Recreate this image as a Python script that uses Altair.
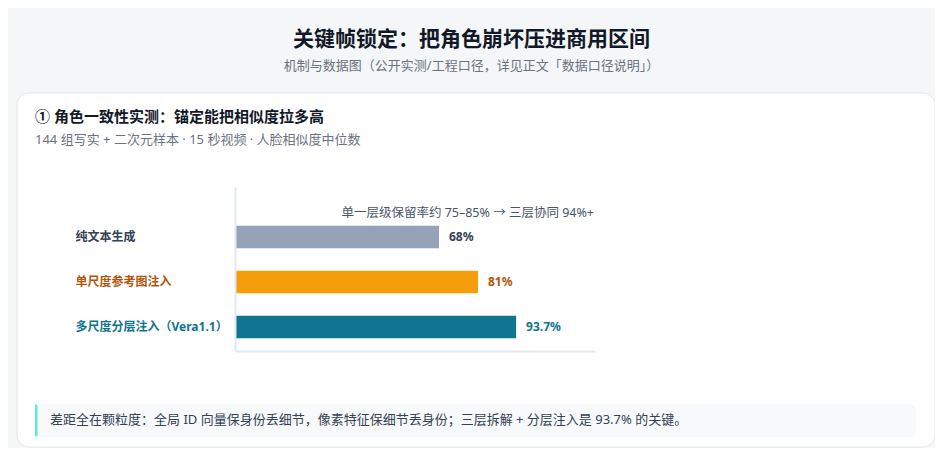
import altair as alt
import pandas as pd

# ---- data ----
categories = ["纯文本生成", "单尺度参考图注入", "多尺度分层注入（Vera1.1）"]
values = [68, 81, 93.7]
value_labels = ["68%", "81%", "93.7%"]
bar_colors = ["#94a3b8", "#f59e0b", "#0f7490"]
label_colors = ["#334155", "#b45309", "#0e7490"]

title_text = "关键帧锁定：把角色崩坏压进商用区间"
subtitle_text = "机制与数据图（公开实测/工程口径，详见正文「数据口径说明」）"
card_title = "① 角色一致性实测：锚定能把相似度拉多高"
card_sub = "144 组写实 + 二次元样本 · 15 秒视频 · 人脸相似度中位数"
annotation = "单一层级保留率约 75–85% → 三层协同 94%+"
footer_text = "差距全在颗粒度：全局 ID 向量保身份丢细节，像素特征保细节丢身份；三层拆解 + 分层注入是 93.7% 的关键。"

FONT = "Noto Sans, Noto Sans CJK SC"
W, H = 360, 164

df = pd.DataFrame({
    "category": categories,
    "value": values,
    "label": value_labels,
    "barcolor": bar_colors,
    "textcolor": label_colors,
})


def one():
    return alt.Chart(pd.DataFrame({"k": [0]}))


# ---- decorations ----
card = one().mark_rect(fill="white", stroke="#e3e6eb", strokeWidth=1, cornerRadius=12).encode(
    x=alt.value(-218), x2=alt.value(700), y=alt.value(-94), y2=alt.value(260)
)
footer_box = one().mark_rect(fill="#f7f9fb", cornerRadius=6).encode(
    x=alt.value(-200), x2=alt.value(681), y=alt.value(217), y2=alt.value(250)
)
footer_stripe = one().mark_rect(fill="#5eead4", cornerRadius=1.5).encode(
    x=alt.value(-200), x2=alt.value(-197.5), y=alt.value(217.5), y2=alt.value(249.5)
)


def txt(text, x, y, size, color, weight="normal", align="left"):
    return one().mark_text(
        text=text, font=FONT, fontSize=size, fontWeight=weight, color=color,
        align=align, baseline="middle"
    ).encode(x=alt.value(x), y=alt.value(y))


t_title = txt(title_text, 236.5, -147, 21, "#111827", "bold", "center")
t_sub = txt(subtitle_text, 236.5, -121, 13, "#6b7280", "normal", "center")
t_card = txt(card_title, -200, -70, 15, "#111827", "bold")
t_card_sub = txt(card_sub, -200, -47, 13, "#6b7280")
t_annot = txt(annotation, 359, 26, 12.5, "#475569", "normal", "right")
t_footer = txt(footer_text, -185, 233, 13, "#334155")

# ---- bars ----
label_color_cond = {
    "condition": [
        {"test": f"datum.value === '{c}'", "value": col}
        for c, col in zip(categories, label_colors)
    ],
    "value": "#334155",
}

x_enc = alt.X(
    "value:Q",
    scale=alt.Scale(domain=[0, 120], nice=False),
    axis=alt.Axis(labels=False, ticks=False, grid=False, title=None,
                  domainColor="#e2e8f0", domainWidth=2, zindex=1),
)
y_enc = alt.Y(
    "category:N",
    sort=categories,
    scale=alt.Scale(paddingInner=0.5, paddingOuter=0.572, align=0.752),
    axis=alt.Axis(ticks=False, grid=False, title=None, domainColor="#e2e8f0",
                  domainWidth=2, labelAlign="left", labelPadding=160,
                  labelFont=FONT, labelFontSize=12, labelFontWeight="bold",
                  labelLimit=300, labelColor=label_color_cond, zindex=1),
)

bars = alt.Chart(df).mark_bar().encode(
    x=x_enc, y=y_enc, color=alt.Color("barcolor:N", scale=None)
)
vals = alt.Chart(df).mark_text(
    align="left", dx=10, font=FONT, fontSize=12, fontWeight="bold", baseline="middle"
).encode(
    x="value:Q", y=alt.Y("category:N", sort=categories), text="label:N",
    color=alt.Color("textcolor:N", scale=None)
)

chart = alt.layer(
    card, footer_box, footer_stripe, t_title, t_sub, t_card, t_card_sub,
    bars, vals, t_annot, t_footer
).properties(
    width=W, height=H,
    autosize=alt.AutoSizeParams(type="none"),
    padding={"left": 227, "top": 179, "right": 340, "bottom": 97},
    background="#f5f6f8",
).configure_view(stroke=None)

chart.save("out.html", embed_options={"renderer": "svg", "actions": False})
